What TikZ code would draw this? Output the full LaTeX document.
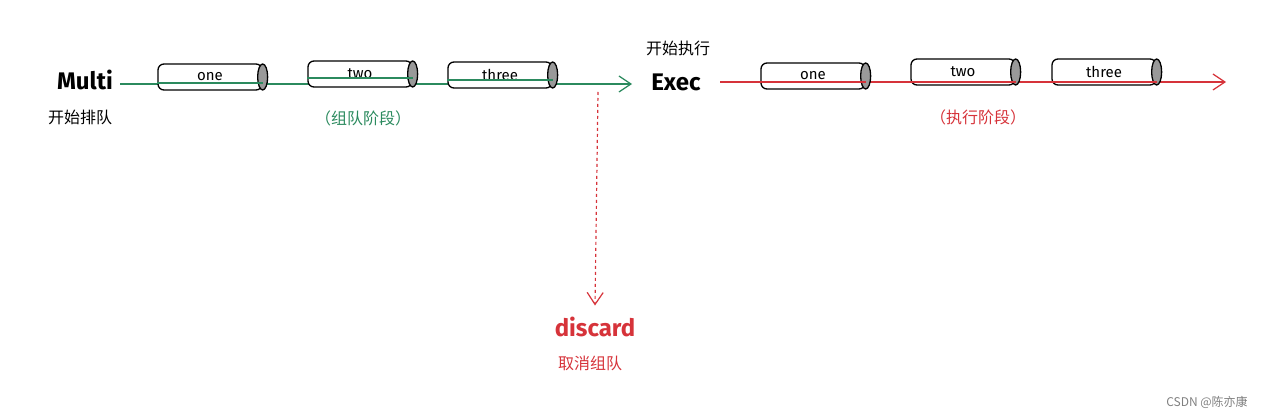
\documentclass[tikz,border=0pt]{standalone}
\usepackage{fontspec}
\setmainfont{Fira Sans}
\newfontfamily\cjk{Noto Sans CJK SC}
\usetikzlibrary{shapes.geometric,arrows.meta}
\definecolor{grn}{HTML}{2B8A5E}
\definecolor{rd}{HTML}{D6333A}
\tikzset{
 cyl/.style={rectangle, rounded corners=6pt, draw=black, line width=1.3pt, fill=white, minimum width=104pt, minimum height=26pt, font=\fontsize{15}{16}\selectfont, inner sep=0pt},
 cylend/.style={ellipse, draw=black, line width=1.3pt, fill=gray!80, minimum width=10pt, minimum height=26pt, inner sep=0pt},
 big/.style={font=\fontsize{24}{26}\selectfont\bfseries},
 cn/.style={font=\cjk\fontsize{16}{18}\selectfont},
 arr/.style={-{Straight Barb[length=12pt,width=16pt]}, line width=1.2pt}
}
\begin{document}
\begin{tikzpicture}[x=1pt,y=-1pt]
\useasboundingbox (0,0) rectangle (1285,419);
\node[big] (multi) at (85,80) {Multi};
\node[cn] (kspd) at (80,117) {开始排队};
\coordinate (gs) at (120,84);
\coordinate (ge) at (632,84);
\draw[draw=grn,arr] (gs) -- (ge);
\node[cyl] (c1) at (210,77) {one};
\node[cylend] (c1e) at (c1.east) {};
\node[cyl] (c2) at (360,74) {two};
\node[cylend] (c2e) at (c2.east) {};
\node[cyl] (c3) at (500,75) {three};
\node[cylend] (c3e) at (c3.east) {};
\draw[draw=grn,line width=1.2pt] ([yshift=-6pt]c1.west) -- ([yshift=-6pt]c1.east) ([yshift=-4pt]c2.west) -- ([yshift=-4pt]c2.east) ([yshift=-5pt]c3.west) -- ([yshift=-5pt]c3.east);
\node[cn,text=grn] (zd) at (363,118) {（组队阶段）};
\node[cn] (kszx) at (678,48) {开始执行};
\node[big] (exec) at (676,82) {Exec};
\coordinate (rs) at (720,82);
\coordinate (re) at (1226,82);
\draw[draw=rd,arr] (rs) -- (re);
\node[cyl] (d1) at (813,76) {one};
\node[cylend] (d1e) at (d1.east) {};
\node[cyl] (d2) at (963,72) {two};
\node[cylend] (d2e) at (d2.east) {};
\node[cyl] (d3) at (1104,72) {three};
\node[cylend] (d3e) at (d3.east) {};
\draw[draw=rd,line width=1.2pt] ([yshift=-6pt]d1.west) -- ([yshift=-6pt]d1.east) ([yshift=-10pt]d2.west) -- ([yshift=-10pt]d2.east) ([yshift=-10pt]d3.west) -- ([yshift=-10pt]d3.east);
\node[cn,text=rd] (zx) at (978,117) {（执行阶段）};
\coordinate (ds) at (598,92);
\node[big,text=rd] (disc) at (595,327) {discard};
\draw[draw=rd,arr,dashed] (ds) -- ([yshift=8pt]disc.north);
\node[cn,text=rd] (qx) at (590,363) {取消组队};
\node[font=\cjk\fontsize{12}{14}\selectfont,text=gray] (csdn) at (1207,402) {CSDN @陈亦康};
\end{tikzpicture}
\end{document}
